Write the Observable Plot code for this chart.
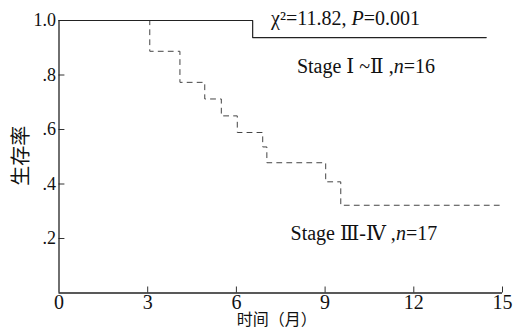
<!DOCTYPE html>
<html>
<head>
<meta charset="utf-8">
<script src="https://cdn.jsdelivr.net/npm/d3@7"></script>
<script src="https://cdn.jsdelivr.net/npm/@observablehq/plot@0.6"></script>
<style>
  html, body { margin: 0; padding: 0; background: #fff; }
</style>
</head>
<body>
<div id="chart"></div>
<script>
// Stage I~II (solid)
const timeEarly = [0, 6.55, 14.45];
const survEarly = [1.0, 0.9375, 0.9375];
// Stage III-IV (dashed)
const timeLate = [0, 3.07, 4.09, 4.93, 5.49, 6.03, 6.89, 7.03, 9.02, 9.53, 14.95];
const survLate = [1.0, 0.887, 0.773, 0.712, 0.650, 0.589, 0.536, 0.478, 0.408, 0.322, 0.322];
const xTicks = [0, 3, 6, 9, 12, 15];
const yTicks = [0.2, 0.4, 0.6, 0.8, 1.0];
const yTickLabels = [".2", ".4", ".6", ".8", "1.0"];
const xLabel = "时间（月）";
const yLabel = "生存率";
const stats = "χ²=11.82, P=0.001";
const labelEarly = "Stage Ⅰ ~Ⅱ ,n=16";
const labelLate = "Stage Ⅲ-Ⅳ ,n=17";

const SERIF = "'Liberation Serif', 'DejaVu Serif', 'Times New Roman', 'Noto Sans CJK SC', serif";
const early = timeEarly.map((t, i) => ({t, s: survEarly[i]}));
const late = timeLate.map((t, i) => ({t, s: survLate[i]}));

const plot = Plot.plot({
  width: 515,
  height: 336,
  marginLeft: 58.5,
  marginRight: 13,
  marginTop: 20,
  marginBottom: 43.5,
  x: {domain: [0, 15]},
  y: {domain: [0, 1]},
  style: {background: "#fff", fontFamily: SERIF},
  marks: [
    Plot.axisX({ticks: xTicks, tickSize: 0, tickPadding: 2, label: null, color: "#111"}),
    Plot.axisY({ticks: yTicks, tickSize: 0, tickPadding: 3, label: null, color: "#111",
      tickFormat: d => yTickLabels[yTicks.indexOf(d)]}),
    Plot.ruleX(xTicks.slice(1), {y1: 0, y2: 0.022, stroke: "#333", strokeWidth: 1}),
    Plot.ruleY(yTicks.slice(0, 4), {x1: 0, x2: 0.2, stroke: "#333", strokeWidth: 1}),
    Plot.ruleX([0], {stroke: "#222", strokeWidth: 1.3}),
    Plot.ruleY([0], {stroke: "#222", strokeWidth: 1.3}),
    Plot.line(late, {x: "t", y: "s", curve: "step-after", stroke: "#444", strokeWidth: 1, strokeDasharray: "5,5"}),
    Plot.line(early, {x: "t", y: "s", curve: "step-after", stroke: "#222", strokeWidth: 1.2}),
    Plot.text([stats], {x: 9.69, y: 0.985, text: d => d, fontSize: 20, textAnchor: "middle", lineAnchor: "bottom", fill: "#111"}),
    Plot.text([labelEarly], {x: 10.38, y: 0.808, text: d => d, fontSize: 20, textAnchor: "middle", lineAnchor: "bottom", fill: "#111"}),
    Plot.text([labelLate], {x: 10.31, y: 0.193, text: d => d, fontSize: 20, textAnchor: "middle", lineAnchor: "bottom", fill: "#111"}),
    Plot.text([xLabel], {frameAnchor: "bottom", text: d => d, dx: -4, dy: 32, fontSize: 16, textAnchor: "middle", lineAnchor: "bottom", fill: "#111"}),
    Plot.text([yLabel], {frameAnchor: "left", text: d => d, dx: -37.5, dy: -1, rotate: -90, fontSize: 20, textAnchor: "middle", lineAnchor: "middle", fill: "#111"})
  ]
});
document.getElementById("chart").appendChild(plot);

// fonts on every text element
d3.select(plot).selectAll("text").style("font-family", SERIF);
d3.select(plot).selectAll('g[aria-label="x-axis tick label"] text').style("font-size", "20px");
d3.select(plot).selectAll('g[aria-label="y-axis tick label"] text').style("font-size", "18px");

// italic P and n
const italicize = (str) => {
  d3.select(plot).selectAll("text").each(function() {
    if (this.textContent === str) {
      const parts = str.split(/(P(?==)|n(?==))/);
      this.textContent = "";
      parts.forEach(p => {
        if (!p) return;
        const ts = document.createElementNS("http://www.w3.org/2000/svg", "tspan");
        ts.textContent = p;
        if (p === "P" || p === "n") ts.setAttribute("font-style", "italic");
        this.appendChild(ts);
      });
    }
  });
};
italicize(stats);
italicize(labelEarly);
italicize(labelLate);
</script>
</body>
</html>
